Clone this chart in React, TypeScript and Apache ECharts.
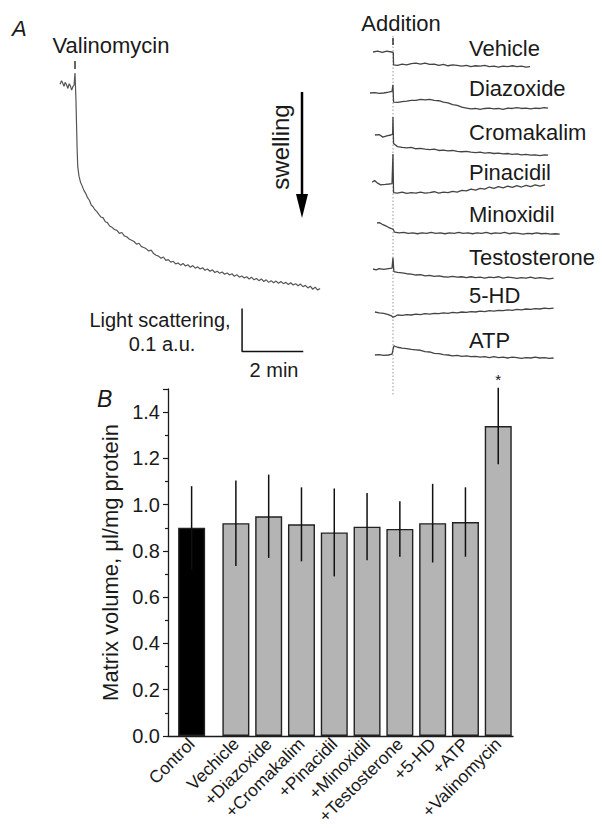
import React, { useEffect, useRef } from "react";
import * as echarts from "echarts";

// ---------- Panel B data ----------
const barNames = ["Control", "Vechicle", "+Diazoxide", "+Cromakalim", "+Pinacidil", "+Minoxidil", "+Testosterone", "+5-HD", "+ATP", "+Valinomycin"];
const barSlots = [0, 1.35, 2.35, 3.35, 4.35, 5.35, 6.35, 7.35, 8.35, 9.35];
const barMeans = [0.9, 0.92, 0.95, 0.915, 0.88, 0.905, 0.895, 0.92, 0.925, 1.34];
const barErrors = [0.18, 0.185, 0.18, 0.16, 0.19, 0.145, 0.12, 0.17, 0.15, 0.165];
const barSignificant = [0, 0, 0, 0, 0, 0, 0, 0, 0, 1];

// ---------- Panel A data (time in min, light scattering change in a.u.) ----------
const valinomycinTrace: number[][] = [
  [0.0, 0.002], [0.05, 0.01], [0.09, 0.004], [0.13, -0.003], [0.17, 0.006], [0.21, 0.001], [0.26, -0.008], [0.3, 0.003],
  [0.34, -0.002], [0.38, -0.012], [0.42, -0.004], [0.46, 0.0], [0.49, 0.028], [0.52, -0.03], [0.54, -0.09], [0.56, -0.15],
  [0.58, -0.19], [0.62, -0.212], [0.67, -0.226], [0.72, -0.234], [0.78, -0.245], [0.84, -0.252], [0.9, -0.262], [0.96, -0.268],
  [1.02, -0.279], [1.08, -0.283], [1.14, -0.29], [1.2, -0.294], [1.27, -0.301], [1.34, -0.307], [1.41, -0.309], [1.48, -0.318],
  [1.55, -0.32], [1.62, -0.328], [1.7, -0.331], [1.78, -0.336], [1.86, -0.338], [1.94, -0.345], [2.02, -0.343], [2.1, -0.351],
  [2.18, -0.353], [2.26, -0.358], [2.34, -0.361], [2.42, -0.364], [2.5, -0.37], [2.58, -0.368], [2.66, -0.376], [2.74, -0.378],
  [2.82, -0.381], [2.9, -0.386], [2.98, -0.384], [3.06, -0.392], [3.14, -0.396], [3.22, -0.398], [3.3, -0.403], [3.38, -0.4],
  [3.46, -0.408], [3.54, -0.406], [3.62, -0.412], [3.7, -0.41], [3.78, -0.416], [3.86, -0.414], [3.94, -0.419], [4.02, -0.415],
  [4.1, -0.421], [4.18, -0.418], [4.26, -0.424], [4.34, -0.42], [4.42, -0.426], [4.5, -0.423], [4.58, -0.428], [4.66, -0.425],
  [4.74, -0.431], [4.82, -0.428], [4.9, -0.433], [4.98, -0.43], [5.06, -0.436], [5.14, -0.433], [5.22, -0.438], [5.3, -0.435],
  [5.38, -0.44], [5.46, -0.437], [5.54, -0.442], [5.62, -0.439], [5.7, -0.445], [5.78, -0.441], [5.86, -0.447], [5.94, -0.444],
  [6.02, -0.449], [6.1, -0.446], [6.18, -0.451], [6.26, -0.447], [6.34, -0.453], [6.42, -0.45], [6.5, -0.455], [6.58, -0.451],
  [6.66, -0.457], [6.74, -0.453], [6.82, -0.459], [6.9, -0.455], [6.98, -0.46], [7.06, -0.456], [7.14, -0.461], [7.22, -0.457],
  [7.3, -0.462], [7.38, -0.459], [7.46, -0.464], [7.54, -0.46], [7.62, -0.465], [7.7, -0.462], [7.78, -0.467], [7.86, -0.463],
  [7.94, -0.469], [8.02, -0.466], [8.1, -0.472], [8.18, -0.468], [8.26, -0.475], [8.34, -0.47], [8.42, -0.477], [8.5, -0.473],
];

const scaleBarPoints: number[][] = [[5.95, -0.52], [5.95, -0.62], [7.95, -0.62]]; // 0.1 a.u. and 2 min

const traceNames = ["Vehicle", "Diazoxide", "Cromakalim", "Pinacidil", "Minoxidil", "Testosterone", "5-HD", "ATP"];

const vehicleTrace: number[][] = [
  [0.1, 0.0], [0.25, 0.002], [0.4, -0.001], [0.55, 0.002], [0.7, 0.0], [0.76, -0.001], [0.77, -0.03], [0.9, -0.031], [1.05, -0.028],
  [1.2, -0.03], [1.35, -0.027], [1.5, -0.026], [1.65, -0.028], [1.8, -0.026], [1.95, -0.029], [2.1, -0.028], [2.25, -0.031],
  [2.4, -0.029], [2.55, -0.032], [2.7, -0.03], [2.85, -0.031], [3.0, -0.033], [3.15, -0.031], [3.3, -0.034], [3.45, -0.032],
  [3.6, -0.033], [3.75, -0.031], [3.9, -0.034], [4.05, -0.033], [4.2, -0.035], [4.35, -0.033], [4.5, -0.034], [4.65, -0.032],
  [4.8, -0.034], [4.95, -0.033], [5.1, -0.035], [5.23, -0.034],
];
const diazoxideTrace: number[][] = [
  [0.0, 0.0], [0.15, 0.001], [0.3, -0.001], [0.45, 0.0], [0.6, 0.002], [0.72, 0.004], [0.75, 0.019], [0.77, -0.021], [0.9, -0.022],
  [1.05, -0.02], [1.2, -0.019], [1.35, -0.017], [1.5, -0.017], [1.65, -0.015], [1.8, -0.016], [1.95, -0.015], [2.1, -0.017],
  [2.25, -0.018], [2.4, -0.021], [2.55, -0.023], [2.7, -0.027], [2.85, -0.029], [3.0, -0.033], [3.15, -0.035], [3.3, -0.037],
  [3.45, -0.036], [3.6, -0.038], [3.75, -0.036], [3.9, -0.035], [4.05, -0.037], [4.2, -0.036], [4.35, -0.038], [4.5, -0.035],
  [4.65, -0.036], [4.8, -0.034], [4.95, -0.036], [5.1, -0.035], [5.25, -0.037], [5.4, -0.035], [5.55, -0.036], [5.7, -0.034],
  [5.82, -0.035],
];
const cromakalimTrace: number[][] = [
  [0.16, 0.0], [0.3, 0.001], [0.42, -0.005], [0.55, -0.002], [0.68, 0.0], [0.74, 0.002], [0.75, 0.042], [0.77, -0.02], [0.9, -0.027],
  [1.05, -0.029], [1.2, -0.03], [1.35, -0.029], [1.5, -0.032], [1.65, -0.031], [1.8, -0.033], [1.95, -0.034], [2.1, -0.033],
  [2.25, -0.036], [2.4, -0.035], [2.55, -0.037], [2.7, -0.036], [2.85, -0.038], [3.0, -0.039], [3.15, -0.038], [3.3, -0.04],
  [3.45, -0.041], [3.6, -0.04], [3.75, -0.042], [3.9, -0.041], [4.05, -0.043], [4.2, -0.042], [4.35, -0.044], [4.5, -0.043],
  [4.65, -0.045], [4.8, -0.044], [4.95, -0.046], [5.1, -0.045], [5.25, -0.047], [5.4, -0.046], [5.55, -0.048], [5.7, -0.046],
  [5.82, -0.047],
];
const pinacidilTrace: number[][] = [
  [0.07, 0.004], [0.15, 0.008], [0.25, 0.002], [0.35, -0.002], [0.5, -0.001], [0.62, 0.0], [0.72, 0.001], [0.75, 0.07], [0.77, -0.02],
  [0.9, -0.021], [1.05, -0.019], [1.2, -0.022], [1.35, -0.02], [1.5, -0.021], [1.65, -0.019], [1.8, -0.021], [1.95, -0.02],
  [2.1, -0.018], [2.25, -0.021], [2.4, -0.019], [2.55, -0.02], [2.7, -0.017], [2.85, -0.019], [3.0, -0.015], [3.15, -0.016],
  [3.3, -0.012], [3.45, -0.014], [3.6, -0.01], [3.75, -0.012], [3.9, -0.007], [4.05, -0.01], [4.2, -0.006], [4.35, -0.009],
  [4.5, -0.005], [4.65, -0.008], [4.8, -0.004], [4.95, -0.007], [5.1, -0.003], [5.25, -0.006], [5.4, -0.002], [5.55, -0.005],
  [5.72, -0.002],
];
const minoxidilTrace: number[][] = [
  [0.23, 0.007], [0.3, 0.008], [0.4, 0.004], [0.5, 0.001], [0.6, -0.003], [0.7, -0.006], [0.75, -0.007], [0.8, -0.014], [0.95, -0.016],
  [1.1, -0.015], [1.25, -0.017], [1.4, -0.016], [1.55, -0.018], [1.7, -0.016], [1.85, -0.017], [2.0, -0.015], [2.15, -0.017],
  [2.3, -0.016], [2.45, -0.018], [2.6, -0.016], [2.75, -0.017], [2.9, -0.015], [3.05, -0.017], [3.2, -0.016], [3.35, -0.018],
  [3.5, -0.016], [3.65, -0.017], [3.8, -0.015], [3.95, -0.018], [4.1, -0.016], [4.25, -0.017], [4.4, -0.015], [4.55, -0.018],
  [4.7, -0.016], [4.85, -0.017], [5.0, -0.019], [5.15, -0.017], [5.3, -0.018], [5.45, -0.016], [5.6, -0.018], [5.75, -0.017],
  [5.9, -0.019], [6.05, -0.018], [6.2, -0.019],
];
const testosteroneTrace: number[][] = [
  [0.1, 0.0], [0.2, -0.002], [0.3, 0.001], [0.45, -0.001], [0.6, 0.001], [0.72, 0.002], [0.75, 0.026], [0.78, -0.006], [0.9, -0.008],
  [1.05, -0.009], [1.2, -0.011], [1.35, -0.012], [1.5, -0.014], [1.65, -0.013], [1.8, -0.016], [1.95, -0.015], [2.1, -0.017],
  [2.25, -0.016], [2.4, -0.018], [2.55, -0.019], [2.7, -0.017], [2.85, -0.019], [3.0, -0.018], [3.15, -0.02], [3.3, -0.018],
  [3.45, -0.02], [3.6, -0.019], [3.75, -0.021], [3.9, -0.019], [4.05, -0.02], [4.2, -0.018], [4.35, -0.021], [4.5, -0.019],
  [4.65, -0.02], [4.8, -0.022], [4.95, -0.02], [5.1, -0.021], [5.25, -0.019], [5.4, -0.022], [5.55, -0.02], [5.7, -0.021],
  [5.85, -0.023], [6.0, -0.021],
];
const hdTrace: number[][] = [
  [0.16, 0.0], [0.3, -0.002], [0.45, -0.003], [0.6, -0.006], [0.7, -0.009], [0.75, -0.012], [0.8, -0.011], [0.9, -0.007], [1.05, -0.008],
  [1.2, -0.006], [1.35, -0.007], [1.5, -0.005], [1.65, -0.006], [1.8, -0.004], [1.95, -0.005], [2.1, -0.003], [2.25, -0.004],
  [2.4, -0.002], [2.55, -0.003], [2.7, -0.001], [2.85, -0.002], [3.0, 0.0], [3.15, -0.001], [3.3, 0.001], [3.45, 0.0], [3.6, 0.002],
  [3.75, 0.001], [3.9, 0.003], [4.05, 0.002], [4.2, 0.004], [4.35, 0.003], [4.5, 0.005], [4.65, 0.004], [4.8, 0.006], [4.95, 0.005],
  [5.1, 0.007], [5.25, 0.006], [5.4, 0.008], [5.55, 0.007], [5.7, 0.009], [5.85, 0.008], [6.0, 0.009],
];
const atpTrace: number[][] = [
  [0.16, 0.0], [0.3, 0.001], [0.45, -0.001], [0.6, 0.0], [0.72, 0.002], [0.78, 0.021], [0.9, 0.018], [1.05, 0.016], [1.2, 0.015],
  [1.35, 0.013], [1.5, 0.012], [1.65, 0.011], [1.8, 0.008], [1.95, 0.007], [2.1, 0.004], [2.25, 0.003], [2.4, 0.001], [2.55, 0.0],
  [2.7, -0.002], [2.85, -0.001], [3.0, -0.003], [3.15, -0.002], [3.3, -0.004], [3.45, -0.003], [3.6, -0.005], [3.75, -0.004],
  [3.9, -0.006], [4.05, -0.004], [4.2, -0.006], [4.35, -0.005], [4.5, -0.007], [4.65, -0.005], [4.8, -0.006], [4.95, -0.008],
  [5.1, -0.006], [5.25, -0.007], [5.4, -0.005], [5.55, -0.007], [5.7, -0.006], [5.85, -0.008], [6.0, -0.007],
];
const additionTraces = [vehicleTrace, diazoxideTrace, cromakalimTrace, pinacidilTrace, minoxidilTrace, testosteroneTrace, hdTrace, atpTrace];

// ---------- layout (pixels) ----------
const FONT = "'Liberation Sans', Arial, Helvetica, sans-serif";
const PX_PER_MIN = 30.6;
const PX_PER_AU = 430;
const traceBaselines = [52, 93, 135, 184, 226, 269, 312, 355];
const traceLabelY = [48, 88, 132, 172, 214, 257, 295, 340];

function txt(text: string, x: number, y: number, size: number, opts: any = {}) {
  const align = opts.align || "center";
  return {
    type: "text",
    x,
    y,
    rotation: opts.rotation || 0,
    silent: true,
    style: {
      text,
      fill: "#1a1a1a",
      font: `${opts.italic ? "italic " : ""}${size}px ${FONT}`,
      align,
      verticalAlign: "middle",
      textAlign: align,
      textVerticalAlign: "middle",
    },
  };
}

export default function App() {
  const ref = useRef<HTMLDivElement>(null);

  useEffect(() => {
    if (!ref.current) return;
    const chart = echarts.init(ref.current, undefined, { renderer: "svg" });

    const grids: any[] = [];
    const xAxes: any[] = [];
    const yAxes: any[] = [];
    const series: any[] = [];

    // Panel B grid (index 0)
    grids.push({ left: 168, top: 389, width: 345, height: 347, containLabel: false, outerBoundsMode: "none" });
    xAxes.push({
      type: "value",
      gridIndex: 0,
      min: -0.72,
      max: 9.8,
      splitLine: { show: false },
      axisTick: { show: false },
      axisLine: { show: true, onZero: false, lineStyle: { color: "#1a1a1a", width: 1.3 } },
      axisLabel: {
        customValues: barSlots,
        formatter: (v: number) => {
          const i = barSlots.findIndex((s) => Math.abs(s - v) < 1e-6);
          return i >= 0 ? barNames[i] : "";
        },
        rotate: 45,
        fontSize: 17.5,
        fontFamily: FONT,
        color: "#1a1a1a",
        margin: 5,
      },
    });
    yAxes.push({
      type: "value",
      gridIndex: 0,
      min: 0,
      max: 1.5,
      interval: 0.2,
      name: "Matrix volume, \u03bcl/mg protein",
      nameLocation: "middle",
      nameGap: 47,
      nameTextStyle: { fontSize: 22, fontFamily: FONT, color: "#1a1a1a" },
      splitLine: { show: false },
      axisLine: { show: true, onZero: false, lineStyle: { color: "#1a1a1a", width: 1.3 } },
      axisTick: { show: true, length: 5, lineStyle: { color: "#1a1a1a", width: 1.2 } },
      minorTick: { show: true, splitNumber: 2, length: 3, lineStyle: { color: "#1a1a1a", width: 1.2 } },
      axisLabel: {
        fontSize: 20,
        fontFamily: FONT,
        color: "#1a1a1a",
        margin: 8,
        showMaxLabel: false,
        formatter: (v: number) => v.toFixed(1),
      },
    });
    series.push({
      type: "bar",
      xAxisIndex: 0,
      yAxisIndex: 0,
      barWidth: 27,
      data: barSlots.map((x, i) => ({
        value: [x, barMeans[i]],
        itemStyle: { color: i === 0 ? "#000000" : "#b4b4b4", borderColor: "#222", borderWidth: 1.4 },
      })),
      z: 2,
    });
    series.push({
      type: "custom",
      xAxisIndex: 0,
      yAxisIndex: 0,
      z: 5,
      encode: { x: 0, y: 1 },
      data: barSlots.map((x, i) => [x, barMeans[i], barErrors[i], barSignificant[i]]),
      renderItem: (params: any, api: any) => {
        const x = api.value(0);
        const m = api.value(1);
        const e = api.value(2);
        const s = api.value(3);
        const lo = api.coord([x, m - e]);
        const hi = api.coord([x, m + e]);
        const children: any[] = [
          {
            type: "line",
            shape: { x1: lo[0], y1: lo[1], x2: hi[0], y2: hi[1] },
            style: { stroke: "#111", lineWidth: 1.5 },
          },
        ];
        if (s) {
          children.push({
            type: "text",
            x: hi[0],
            y: hi[1] - 8,
            style: { text: "*", fill: "#111", font: `15px ${FONT}`, align: "center", verticalAlign: "middle" },
          });
        }
        return { type: "group", children };
      },
    });

    // Panel A main trace grid (index 1)
    const mainXMax = 8.6;
    const mainYMax = 0.05;
    const mainYMin = -0.65;
    grids.push({
      left: 60,
      top: 85 - mainYMax * PX_PER_AU,
      width: mainXMax * PX_PER_MIN,
      height: (mainYMax - mainYMin) * PX_PER_AU,
      outerBoundsMode: "none",
    });
    xAxes.push({ type: "value", gridIndex: 1, min: 0, max: mainXMax, show: false });
    yAxes.push({ type: "value", gridIndex: 1, min: mainYMin, max: mainYMax, show: false });
    series.push({
      type: "line",
      xAxisIndex: 1,
      yAxisIndex: 1,
      data: valinomycinTrace,
      showSymbol: false,
      symbol: "none",
      lineStyle: { color: "#555", width: 1.2 },
    });
    series.push({
      type: "line",
      xAxisIndex: 1,
      yAxisIndex: 1,
      data: scaleBarPoints,
      showSymbol: false,
      symbol: "none",
      lineStyle: { color: "#111", width: 1.5 },
    });

    // Panel A addition traces (indices 2..9)
    const addXMax = 6.3;
    const addRange = 0.08;
    additionTraces.forEach((tr, k) => {
      const gi = 2 + k;
      grids.push({
        left: 370,
        top: traceBaselines[k] - addRange * PX_PER_AU,
        width: addXMax * PX_PER_MIN,
        height: 2 * addRange * PX_PER_AU,
        outerBoundsMode: "none",
      });
      xAxes.push({ type: "value", gridIndex: gi, min: 0, max: addXMax, show: false });
      yAxes.push({ type: "value", gridIndex: gi, min: -addRange, max: addRange, show: false });
      series.push({
        type: "line",
        xAxisIndex: gi,
        yAxisIndex: gi,
        data: tr,
        showSymbol: false,
        symbol: "none",
        lineStyle: { color: "#444", width: 1.3 },
      });
    });

    const graphics: any[] = [
      txt("A", 12, 28, 22, { italic: true, align: "left" }),
      txt("Valinomycin", 111, 45, 22),
      { type: "line", silent: true, shape: { x1: 75, y1: 61, x2: 75, y2: 69 }, style: { stroke: "#333", lineWidth: 1.5 } },
      txt("swelling", 280, 147, 24, { rotation: Math.PI / 2 }),
      { type: "line", silent: true, shape: { x1: 302, y1: 92, x2: 302, y2: 200 }, style: { stroke: "#000", lineWidth: 2.5 } },
      { type: "polygon", silent: true, shape: { points: [[296, 194], [308, 194], [302, 218]] }, style: { fill: "#000" } },
      txt("Light scattering,", 160, 320, 20),
      txt("0.1 a.u.", 162, 344, 20),
      txt("2 min", 274, 370, 20),
      txt("Addition", 401, 23, 22),
      { type: "line", silent: true, shape: { x1: 393, y1: 36, x2: 393, y2: 396 }, style: { stroke: "#999", lineWidth: 1, lineDash: [1.5, 2] } },
      { type: "line", silent: true, shape: { x1: 393, y1: 38, x2: 393, y2: 45 }, style: { stroke: "#333", lineWidth: 1.5 } },
      txt("B", 97, 399, 23, { italic: true, align: "left" }),
    ];
    traceNames.forEach((n, k) => graphics.push(txt(n, 469, traceLabelY[k], 22, { align: "left" })));

    chart.setOption({
      animation: false,
      backgroundColor: "#ffffff",
      grid: grids,
      xAxis: xAxes,
      yAxis: yAxes,
      series,
      graphic: graphics,
    });

    return () => chart.dispose();
  }, []);

  return (
    <div
      ref={ref}
      style={{ position: "fixed", left: 0, top: 0, width: 602, height: 828, background: "#fff" }}
    />
  );
}
